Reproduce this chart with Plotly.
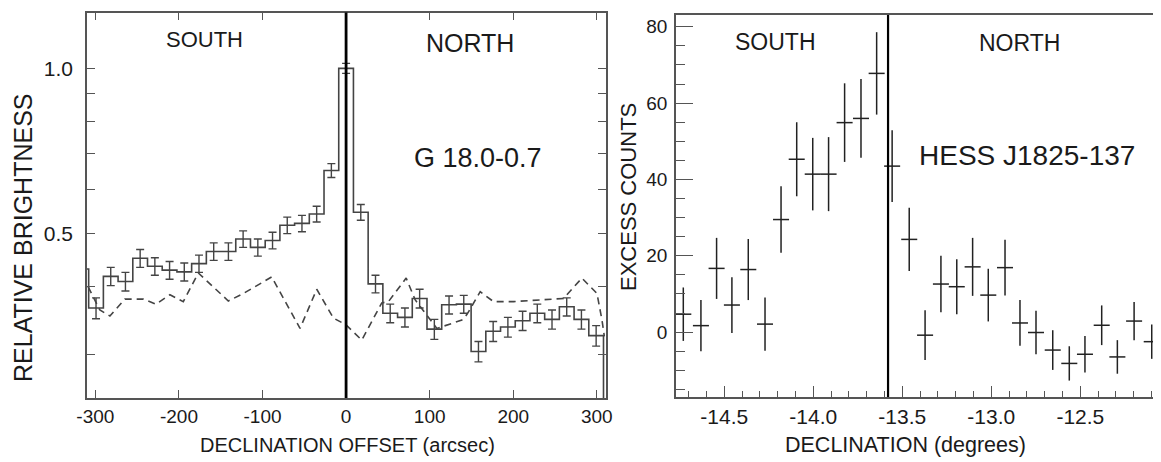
import plotly.graph_objects as go

# ---------------- Left panel data (G 18.0-0.7) ----------------
bin_centers = [-316.8, -299.2, -281.6, -264.0, -246.4, -228.8, -211.2, -193.6, -176.0,
               -158.4, -140.8, -123.2, -105.6, -88.0, -70.4, -52.8, -35.2, -17.6, 0.0,
               17.6, 35.2, 52.8, 70.4, 88.0, 105.6, 123.2, 140.8, 158.4, 176.0, 193.6,
               211.2, 228.8, 246.4, 264.0, 281.6, 299.2, 316.8]
brightness = [0.43, 0.365, 0.417, 0.408, 0.450, 0.435, 0.428, 0.425, 0.440,
              0.463, 0.463, 0.488, 0.471, 0.485, 0.517, 0.521, 0.542, 0.651, 1.0,
              0.546, 0.404, 0.357, 0.351, 0.380, 0.334, 0.370, 0.371, 0.304, 0.331, 0.337,
              0.346, 0.357, 0.348, 0.367, 0.348, 0.325, 0.20]
brightness_err = [0.0, 0.016, 0.016, 0.016, 0.017, 0.016, 0.016, 0.016, 0.016,
                  0.017, 0.017, 0.017, 0.017, 0.017, 0.018, 0.018, 0.018, 0.019, 0.021,
                  0.018, 0.015, 0.014, 0.014, 0.015, 0.014, 0.014, 0.014, 0.013, 0.014, 0.014,
                  0.014, 0.014, 0.014, 0.014, 0.014, 0.014, 0.0]

dash_x = [-308.6, -294.6, -282.6, -264.7, -242.7, -227.5, -210.8, -194.8, -176.8, -140.9,
          -122.9, -89.0, -55.1, -35.1, -15.2, 0.0, 18.8, 42.7, 50.7, 71.9, 82.6, 100.6,
          108.6, 138.5, 144.5, 160.5, 176.4, 200.4, 260.2, 282.2, 300.2, 306.2, 309.0]
dash_y = [0.399, 0.362, 0.353, 0.379, 0.379, 0.371, 0.386, 0.375, 0.423, 0.376,
          0.388, 0.416, 0.335, 0.395, 0.350, 0.340, 0.319, 0.373, 0.375, 0.414, 0.378, 0.347,
          0.335, 0.347, 0.355, 0.391, 0.375, 0.375, 0.380, 0.414, 0.388, 0.347, 0.324]

left_xticks = [-300, -200, -100, 0, 100, 200, 300]
left_xtick_labels = ["-300", "-200", "-100", "0", "100", "200", "300"]
left_yticks = [0.3, 0.4, 0.5, 0.6, 0.7, 0.8, 0.9, 1.0]
left_ytick_labels = ["", "", "0.5", "", "", "", "", "1.0"]
left_divider = 0.0

# ---------------- Right panel data (HESS J1825-137) ----------------
decl = [-14.730, -14.631, -14.543, -14.457, -14.365, -14.271, -14.181, -14.093, -14.003,
        -13.914, -13.824, -13.732, -13.644, -13.557, -13.461, -13.372, -13.283, -13.194,
        -13.105, -13.017, -12.923, -12.839, -12.749, -12.655, -12.562, -12.474, -12.380,
        -12.292, -12.198, -12.099]
counts = [4.7, 1.7, 16.7, 7.1, 16.4, 2.1, 29.5, 45.3, 41.4, 41.4, 54.9, 56.0, 67.8, 43.5,
          24.3, -0.8, 12.6, 11.9, 17.1, 9.7, 16.9, 2.4, -0.1, -4.7, -8.2, -5.8, 1.8, -6.5,
          2.9, -2.5]
counts_err = [7.0, 6.7, 8.0, 7.3, 8.0, 7.0, 8.7, 9.7, 9.5, 9.7, 10.3, 10.3, 10.8, 9.4,
              8.3, 6.5, 7.4, 7.2, 7.6, 6.9, 7.3, 6.0, 5.7, 5.2, 4.5, 4.8, 5.2, 4.4, 5.0, 4.5]
decl_halfwidth = 0.045

right_xticks = [-14.5, -14.0, -13.5, -13.0, -12.5]
right_xtick_labels = ["-14.5", "-14.0", "-13.5", "-13.0", "-12.5"]
right_yticks = [0, 20, 40, 60, 80]
right_ytick_labels = ["0", "20", "40", "60", "80"]
right_divider = -13.58

# ---------------- Figure ----------------
PAGE_PAD = 8            # default page margin around the figure
W, H = 1161 - PAGE_PAD, 462 - PAGE_PAD
FONT = "Liberation Sans, Arial, Helvetica, sans-serif"
LINE = "#444444"
FRAME = "#555555"
TXT = "#1a1a1a"


def px(xpix):
    return (xpix - PAGE_PAD) / W


def py(ypix):
    return 1 - (ypix - PAGE_PAD) / H


fig = go.Figure()

fig.add_trace(go.Scatter(
    x=bin_centers, y=brightness, mode="lines", line_shape="hvh",
    line=dict(color=LINE, width=1.6), xaxis="x", yaxis="y", showlegend=False,
    hoverinfo="skip"))
fig.add_trace(go.Scatter(
    x=bin_centers[1:-1], y=brightness[1:-1], mode="markers",
    marker=dict(size=1, color=LINE),
    error_y=dict(type="data", array=brightness_err[1:-1], color=LINE, thickness=1.4, width=4),
    xaxis="x", yaxis="y", showlegend=False))
fig.add_trace(go.Scatter(
    x=dash_x, y=dash_y, mode="lines",
    line=dict(color=LINE, width=1.6, dash="7px,5px"),
    xaxis="x", yaxis="y", showlegend=False))

fig.add_trace(go.Scatter(
    x=decl, y=counts, mode="markers", marker=dict(size=1, color="#222"),
    error_y=dict(type="data", array=counts_err, color="#222", thickness=1.5, width=0),
    error_x=dict(type="constant", value=decl_halfwidth, color="#222", thickness=1.5, width=0),
    xaxis="x2", yaxis="y2", showlegend=False))

fig.update_layout(
    width=W, height=H,
    margin=dict(l=0, r=0, t=0, b=0, autoexpand=False),
    paper_bgcolor="white", plot_bgcolor="white",
    font=dict(family=FONT, color=TXT),
    xaxis=dict(domain=[px(87), px(606)], range=[-310, 311], anchor="y", automargin=False,
               tickvals=left_xticks, ticktext=left_xtick_labels,
               ticks="inside", ticklen=8, tickcolor=FRAME, tickwidth=1.3,
               showline=True, linecolor=FRAME, linewidth=1.5, mirror="ticks",
               showgrid=False, zeroline=False,
               tickfont=dict(family=FONT, size=19, color=TXT)),
    yaxis=dict(domain=[py(398), py(12.5)], type="log", range=[-0.602, 0.102], anchor="x",
               automargin=False, ticklabelstandoff=8,
               tickvals=left_yticks, ticktext=left_ytick_labels,
               ticks="inside", ticklen=8, tickcolor=FRAME, tickwidth=1.3,
               showline=True, linecolor=FRAME, linewidth=1.5, mirror="ticks",
               showgrid=False, zeroline=False,
               tickfont=dict(family=FONT, size=21, color=TXT)),
    xaxis2=dict(domain=[px(676), px(1156)], range=[-14.771, -12.075], anchor="y2",
                automargin=False,
                tickvals=right_xticks, ticktext=right_xtick_labels,
                ticks="inside", ticklen=11, tickcolor=FRAME, tickwidth=1.3,
                minor=dict(dtick=0.1, ticks="inside", ticklen=6, tickcolor=FRAME, tickwidth=1.2),
                showline=True, linecolor=FRAME, linewidth=1.5, mirror=True,
                showgrid=False, zeroline=False,
                tickfont=dict(family=FONT, size=21, color=TXT)),
    yaxis2=dict(domain=[py(397), py(15)], range=[-17.0, 83.1], anchor="x2",
                automargin=False, ticklabelstandoff=3,
                tickvals=right_yticks, ticktext=right_ytick_labels,
                ticks="inside", ticklen=17, tickcolor=FRAME, tickwidth=1.3,
                minor=dict(dtick=5, ticks="inside", ticklen=9, tickcolor=FRAME, tickwidth=1.2),
                showline=True, linecolor=FRAME, linewidth=1.5, mirror=True,
                showgrid=False, zeroline=False,
                tickfont=dict(family=FONT, size=19, color=TXT)),
    shapes=[
        dict(type="line", xref="x", yref="y domain", x0=left_divider, x1=left_divider,
             y0=0, y1=1, line=dict(color="black", width=2.8)),
        dict(type="line", xref="x2", yref="y2 domain", x0=right_divider, x1=right_divider,
             y0=0, y1=1, line=dict(color="black", width=2.2)),
    ],
)

C = dict(xanchor="center", yanchor="middle", showarrow=False)
ann = [
    dict(text="SOUTH", x=-169, y=py(40), xref="x", yref="paper",
         font=dict(size=22, color=TXT), **C),
    dict(text="NORTH", x=148.5, y=py(43), xref="x", yref="paper",
         font=dict(size=25, color=TXT), **C),
    dict(text="G 18.0-0.7", x=158, y=py(158), xref="x", yref="paper",
         font=dict(size=27, color=TXT), **C),
    dict(text="SOUTH", x=-14.21, y=76.1, xref="x2", yref="y2",
         font=dict(size=23, color=TXT), **C),
    dict(text="NORTH", x=-12.843, y=75.8, xref="x2", yref="y2",
         font=dict(size=23, color=TXT), **C),
    dict(text="HESS J1825-137", x=-12.80, y=46.4, xref="x2", yref="y2",
         font=dict(size=28, color=TXT), **C),
    dict(text="RELATIVE BRIGHTNESS", x=px(23), y=py(238), xref="paper", yref="paper",
         textangle=-90, font=dict(size=25, color=TXT), **C),
    dict(text="DECLINATION OFFSET (arcsec)", x=px(347), y=py(445), xref="paper",
         yref="paper", font=dict(size=20, color=TXT), **C),
    dict(text="EXCESS COUNTS", x=px(628), y=py(197), xref="paper", yref="paper",
         textangle=-90, font=dict(size=22, color=TXT), **C),
    dict(text="DECLINATION (degrees)", x=px(905), y=py(445), xref="paper",
         yref="paper", font=dict(size=21.5, color=TXT), **C),
]
fig.update_layout(annotations=ann)

fig.write_html("out.html")
